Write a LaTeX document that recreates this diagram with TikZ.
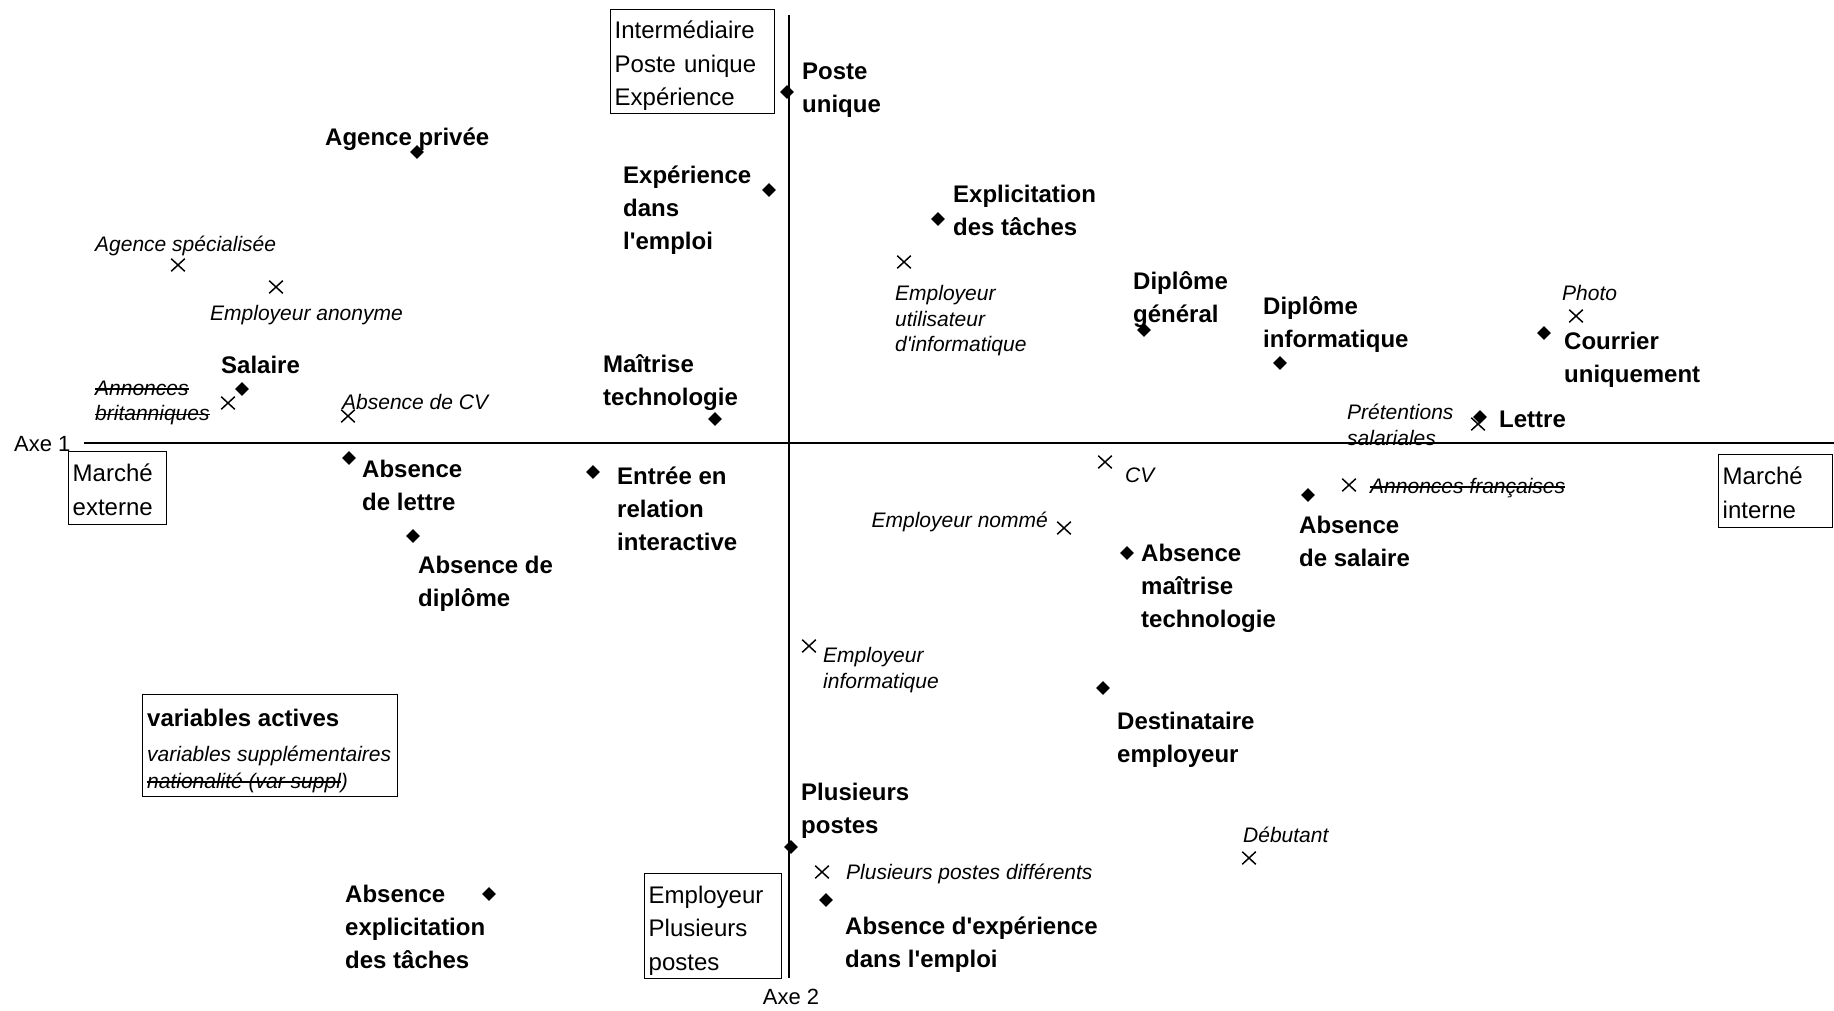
\documentclass[tikz,border=0pt]{standalone}
\usepackage{fontspec}
\newfontfamily\arial{Liberation Sans}
\usetikzlibrary{shapes.geometric,shapes.misc}
\newcommand\lst{\rule[-0.25em]{0pt}{0.95em}}
\newcommand\lsf{\rule[-0.25em]{0pt}{1.3em}}
\newcommand\bst{\rule[-0.25em]{0pt}{1.37em}}
\newcommand\strk[1]{\setbox0\hbox{#1}\rlap{\rule[0.26em]{\wd0}{1.5pt}}\box0}
\tikzset{
  dia/.style={diamond, fill=black, inner sep=0pt, minimum width=14pt, minimum height=14pt},
  crs/.style={cross out, draw=black, line width=1.5pt, inner sep=0pt, minimum width=12pt, minimum height=11pt},
  act/.style={anchor=west, inner sep=0pt, align=left, font=\arial\fontsize{24}{33}\selectfont\bfseries},
  supl/.style={anchor=west, inner sep=0pt, align=left, font=\arial\fontsize{21}{25.5}\selectfont\itshape},
  axeline/.style={line width=1.6pt},
  box/.style={draw, line width=1.4pt, inner xsep=4pt, inner ysep=0pt, align=left, anchor=north west, font=\arial\fontsize{24}{33.5}\selectfont},
  axlabel/.style={inner sep=0pt, font=\arial\fontsize{22}{26}\selectfont},
}
\begin{document}
\begin{tikzpicture}[x=1pt,y=-1pt]
\fill[white] (0,0) rectangle (1834,1011);
\useasboundingbox (0,0) rectangle (1834,1011);

% axes
\coordinate (h1) at (84,443);
\coordinate (h2) at (1834,443);
\coordinate (v1) at (789,15);
\coordinate (v2) at (789,978);
\draw[axeline] (h1) -- (h2);
\draw[axeline] (v1) -- (v2);
\node[axlabel, anchor=west] (ax1) at (14,443) {\lsf Axe 1};
\node[axlabel] (ax2) at (791,996) {\lsf Axe 2};

% boxes
\node[box, minimum width=164pt, minimum height=104pt, text width=156pt] (bInt) at (610,9)
  {\bst Intermédiaire\\\lst Poste unique\\\lst Expérience};
\node[box, minimum width=98pt, minimum height=73pt, text width=90pt] (bExt) at (68,451)
  {\bst Marché\\\lst externe};
\node[box, minimum width=114pt, minimum height=73pt, text width=106pt] (bIntern) at (1718,454)
  {\bst Marché\\\lst interne};
\node[box, minimum width=137pt, minimum height=105pt, text width=129pt] (bEmp) at (644,873)
  {\bst Employeur\\\lst Plusieurs\\\lst postes};
\node[draw, line width=1.4pt, inner sep=0pt, anchor=north west, minimum width=255pt, minimum height=102pt] (leg) at (142,694) {};
\node[act] (lg1) at (147,717) {\lsf variables actives};
\node[supl] (lg2) at (147,753) {\lsf variables supplémentaires};
\node[supl] (lg3) at (147,780) {\lsf\strk{nationalité (var suppl})};

% active variables (diamonds)
\node[dia] (d1) at (787,92) {};
\node[act] (l1) at (802,86.5) {\lsf Poste\\\lst unique};
\node[dia] (d2) at (417,152) {};
\node[act] (l2) at (325,136) {\lsf Agence privée};
\node[dia] (d3) at (769,190) {};
\node[act] (l3) at (623,206.5) {\lsf Expérience\\\lst dans\\\lst l'emploi};
\node[dia] (d4) at (938,219) {};
\node[act] (l4) at (953,209.5) {\lsf Explicitation\\\lst des tâches};
\node[dia] (d5) at (1144,330) {};
\node[act] (l5) at (1133,296) {\lsf Diplôme\\\lst général};
\node[dia] (d6) at (1280,363) {};
\node[act] (l6) at (1263,321) {\lsf Diplôme\\\lst informatique};
\node[dia] (d7) at (1544,333) {};
\node[act] (l7) at (1564,356.5) {\lsf Courrier\\\lst uniquement};
\node[dia] (d8) at (1480,417) {};
\node[act] (l8) at (1499,418) {\lsf Lettre};
\node[dia] (d9) at (242,389) {};
\node[act] (l9) at (221,364) {\lsf Salaire};
\node[dia] (d10) at (715,419) {};
\node[act] (l10) at (603,379) {\lsf Maîtrise\\\lst technologie};
\node[dia] (d11) at (349,458) {};
\node[act] (l11) at (362,484.5) {\lsf Absence\\\lst de lettre};
\node[dia] (d12) at (593,472) {};
\node[act] (l12) at (617,507.5) {\lsf Entrée en\\\lst relation\\\lst interactive};
\node[dia] (d13) at (413,536) {};
\node[act] (l13) at (418,580.5) {\lsf Absence de\\\lst diplôme};
\node[dia] (d14) at (1308,495) {};
\node[act] (l14) at (1299,540.5) {\lsf Absence\\\lst de salaire};
\node[dia] (d15) at (1127,553) {};
\node[act] (l15) at (1141,584.5) {\lsf Absence\\\lst maîtrise\\\lst technologie};
\node[dia] (d16) at (1103,688) {};
\node[act] (l16) at (1117,736.5) {\lsf Destinataire\\\lst employeur};
\node[dia] (d17) at (791,847) {};
\node[act] (l17) at (801,807) {\lsf Plusieurs\\\lst postes};
\node[dia] (d18) at (826,900) {};
\node[act] (l18) at (845,941) {\lsf Absence d'expérience\\\lst dans l'emploi};
\node[dia] (d19) at (489,894) {};
\node[act] (l19) at (345,925.5) {\lsf Absence\\\lst explicitation\\\lst des tâches};

% supplementary variables (crosses)
\node[crs] (x1) at (178,265) {};
\node[supl] (s1) at (95,243) {\lsf Agence spécialisée};
\node[crs] (x2) at (276,287) {};
\node[supl] (s2) at (210,312) {\lsf Employeur anonyme};
\node[crs] (x3) at (228,403) {};
\node[supl] (s3) at (95,399.5) {\lsf\strk{Annonces}\\\lst\strk{britanniques}};
\node[crs] (x4) at (348,416) {};
\node[supl] (s4) at (342,401) {\lsf Absence de CV};
\node[crs] (x5) at (904,262) {};
\node[supl] (s5) at (895,318) {\lsf Employeur\\\lst utilisateur\\\lst d'informatique};
\node[crs] (x6) at (1576,316) {};
\node[supl] (s6) at (1562,292) {\lsf Photo};
\node[crs] (x7) at (1478,424) {};
\node[supl] (s7) at (1347,424) {\lsf Prétentions\\\lst salariales};
\node[crs] (x8) at (1105,462) {};
\node[supl] (s8) at (1125,474) {\lsf CV};
\node[crs] (x9) at (1349,485) {};
\node[supl] (s9) at (1370,485) {\lsf\strk{Annonces françaises}};
\node[crs] (x10) at (1064,528) {};
\node[supl, anchor=east] (s10) at (1048,519) {\lsf Employeur nommé};
\node[crs] (x11) at (809,646) {};
\node[supl] (s11) at (823,667) {\lsf Employeur\\\lst informatique};
\node[crs] (x12) at (1249,858) {};
\node[supl] (s12) at (1243,834) {\lsf Débutant};
\node[crs] (x13) at (822,872) {};
\node[supl] (s13) at (846,871) {\lsf Plusieurs postes différents};
\end{tikzpicture}
\end{document}
